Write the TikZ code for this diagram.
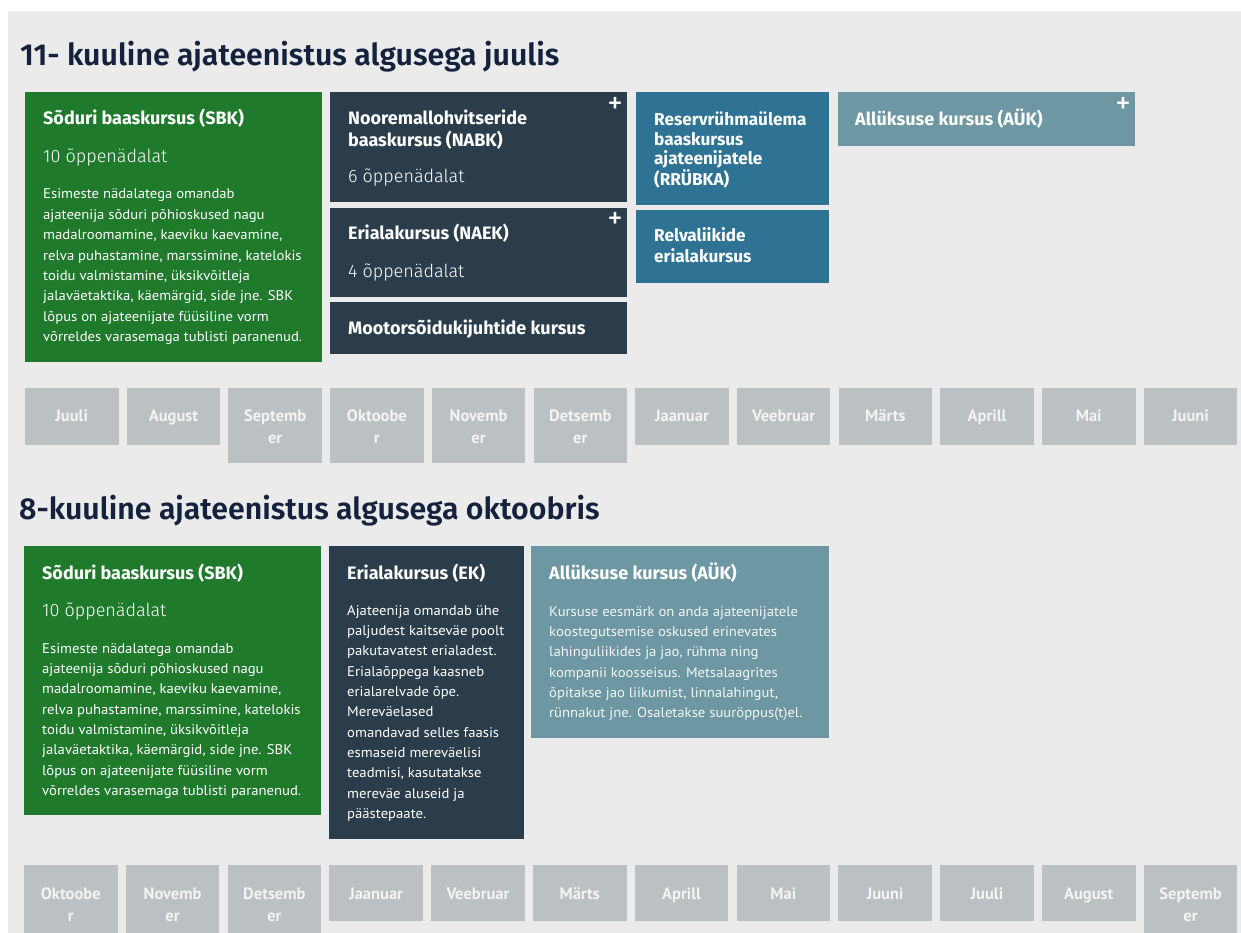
\documentclass[tikz,border=0pt]{standalone}
\usepackage{fontspec}
\setmainfont{Fira Sans}
\newfontfamily\headfont{Fira Sans}
\IfFontExistsTF{Fira Sans SemiBold}{\newfontfamily\titlefont{Fira Sans SemiBold}}{\newfontfamily\titlefont{Fira Sans}[UprightFont=*-Bold]}
\IfFontExistsTF{Fira Sans Light}{\newfontfamily\lightfont{Fira Sans Light}}{\newfontfamily\lightfont{Fira Sans}}
\newfontfamily\bodyfont{PT Sans}[FakeStretch=1.05]
\newfontfamily\monthfont{PT Sans}
\definecolor{bgc}{HTML}{EBEBEB}
\definecolor{titlec}{HTML}{14223E}
\definecolor{grn}{HTML}{1F7A2C}
\definecolor{navy}{HTML}{2B3D4B}
\definecolor{blu}{HTML}{2F7394}
\definecolor{gblu}{HTML}{6D97A3}
\definecolor{mgray}{HTML}{BBC0C2}
\definecolor{mtext}{HTML}{F4F4F4}
\newcommand{\mltext}[2]{\parbox[t]{#1}{\raggedright #2}}
\begin{document}
\begin{tikzpicture}[x=1pt,y=-1pt,
  cbox/.style={rectangle, inner sep=0pt, outer sep=0pt, anchor=north west},
  ttl/.style={anchor=base west, inner sep=0pt, text=titlec, font=\titlefont\fontsize{30.3}{34}\selectfont},
  head/.style={anchor=base west, inner sep=0pt, text=white, font=\headfont\bfseries\fontsize{18}{22}\selectfont},
  shead/.style={anchor=base west, inner sep=0pt, text=white, font=\headfont\bfseries\fontsize{17.2}{19.5}\selectfont},
  weeks/.style={anchor=base west, inner sep=0pt, text=white, font=\lightfont\fontsize{18}{22}\selectfont},
  body/.style={anchor=base west, inner sep=0pt, text=white, font=\bodyfont\fontsize{14}{20.35}\selectfont},
  plus/.style={inner sep=0pt, text=white, font=\headfont\fontsize{31}{31}\selectfont},
  mbox/.style={cbox, fill=mgray, minimum width=93.5pt},
  mlab/.style={anchor=base, inner sep=0pt, text=mtext, font=\monthfont\bfseries\fontsize{16.5}{22}\selectfont}
]
\useasboundingbox (0,0) rectangle (1241,933);
\fill[white] (0,0) rectangle (1241,933);
\fill[bgc] (8,11) rectangle (1241,933);

% ---------- Section 1 ----------
\node[ttl] (t1) at (20,66) {11- kuuline ajateenistus algusega juulis};

\node[cbox, fill=grn, minimum width=297pt, minimum height=270pt] (sbk1) at (25,92) {};
\node[head] (sbk1h) at (43,125) {Sõduri baaskursus (SBK)};
\node[weeks] (sbk1w) at (43,163) {10 õppenädalat};
\node[body] (sbk1b) at (43,199) {\mltext{400pt}{Esimeste nädalatega omandab\\
ajateenija sõduri põhioskused nagu\\
madalroomamine, kaeviku kaevamine,\\
relva puhastamine, marssimine, katelokis\\
toidu valmistamine, üksikvõitleja\\
jalaväetaktika, käemärgid, side jne. SBK\\
lõpus on ajateenijate füüsiline vorm\\
võrreldes varasemaga tublisti paranenud.}};

\node[cbox, fill=navy, minimum width=297pt, minimum height=110pt] (nabk) at (330,92) {};
\node[head] (nabkh) at (348,125) {\mltext{300pt}{Nooremallohvitseride\\baaskursus (NABK)}};
\node[weeks] (nabkw) at (348,183) {6 õppenädalat};
\node[plus] (nabkp) at (615,105) {+};

\node[cbox, fill=navy, minimum width=297pt, minimum height=89pt] (naek) at (330,208) {};
\node[head] (naekh) at (348,240) {Erialakursus (NAEK)};
\node[weeks] (naekw) at (348,277) {4 õppenädalat};
\node[plus] (naekp) at (615,220) {+};

\node[cbox, fill=navy, minimum width=297pt, minimum height=52pt] (moot) at (330,302) {};
\node[head] (mooth) at (348,334) {Mootorsõidukijuhtide kursus};

\node[cbox, fill=blu, minimum width=193pt, minimum height=113pt] (rrub) at (636,92) {};
\node[shead] (rrubh) at (654,126) {\mltext{180pt}{Reservrühmaülema\\baaskursus\\ajateenijatele\\(RRÜBKA)}};

\node[cbox, fill=blu, minimum width=193pt, minimum height=73pt] (relv) at (636,210) {};
\node[shead, font=\headfont\bfseries\fontsize{17.2}{20.5}\selectfont] (relvh) at (654,242) {\mltext{180pt}{Relvaliikide\\erialakursus}};

\node[cbox, fill=gblu, minimum width=297pt, minimum height=54pt] (auk1) at (838,92) {};
\node[head] (auk1h) at (855,126) {Allüksuse kursus (AÜK)};
\node[plus] (auk1p) at (1123,105) {+};

\foreach \i/\lab/\dbl in {0/Juuli/0, 1/August/0, 2/Septemb\\er/1, 3/Oktoobe\\r/1,
  4/Novemb\\er/1, 5/Detsemb\\er/1, 6/Jaanuar/0, 7/Veebruar/0, 8/Märts/0,
  9/Aprill/0, 10/Mai/0, 11/Juuni/0} {
  \node[mbox, minimum height={57pt+18pt*\dbl}] (ma\i) at ({25+101.7*\i},388) {};
  \node[mlab] (mal\i) at ({25+101.7*\i+46.75},421) {\parbox[t]{93pt}{\centering \lab}};
}

% ---------- Section 2 ----------
\node[ttl] (t2) at (19,519) {8-kuuline ajateenistus algusega oktoobris};

\node[cbox, fill=grn, minimum width=297pt, minimum height=269pt] (sbk2) at (24,546) {};
\node[head] (sbk2h) at (42,579) {Sõduri baaskursus (SBK)};
\node[weeks] (sbk2w) at (42,616) {10 õppenädalat};
\node[body] (sbk2b) at (42,653) {\mltext{400pt}{Esimeste nädalatega omandab\\
ajateenija sõduri põhioskused nagu\\
madalroomamine, kaeviku kaevamine,\\
relva puhastamine, marssimine, katelokis\\
toidu valmistamine, üksikvõitleja\\
jalaväetaktika, käemärgid, side jne. SBK\\
lõpus on ajateenijate füüsiline vorm\\
võrreldes varasemaga tublisti paranenud.}};

\node[cbox, fill=navy, minimum width=195pt, minimum height=293pt] (ek) at (329,546) {};
\node[head] (ekh) at (347,579) {Erialakursus (EK)};
\node[body] (ekb) at (347,615) {\mltext{300pt}{Ajateenija omandab ühe\\
paljudest kaitseväe poolt\\
pakutavatest erialadest.\\
Erialaõppega kaasneb\\
erialarelvade õpe.\\
Mereväelased\\
omandavad selles faasis\\
esmaseid mereväelisi\\
teadmisi, kasutatakse\\
mereväe aluseid ja\\
päästepaate.}};

\node[cbox, fill=gblu, minimum width=298pt, minimum height=192pt] (auk2) at (531,546) {};
\node[head] (auk2h) at (549,579) {Allüksuse kursus (AÜK)};
\node[body, text=white!92!gblu] (auk2b) at (549,616) {\mltext{400pt}{Kursuse eesmärk on anda ajateenijatele\\
koostegutsemise oskused erinevates\\
lahinguliikides ja jao, rühma ning\\
kompanii koosseisus. Metsalaagrites\\
õpitakse jao liikumist, linnalahingut,\\
rünnakut jne. Osaletakse suuröppus(t)el.}};

\foreach \i/\lab/\dbl in {0/Oktoobe\\r/1, 1/Novemb\\er/1, 2/Detsemb\\er/1, 3/Jaanuar/0,
  4/Veebruar/0, 5/Märts/0, 6/Aprill/0, 7/Mai/0, 8/Juuni/0, 9/Juuli/0,
  10/August/0, 11/Septemb\\er/1} {
  \node[mbox, minimum height={56pt+12pt*\dbl}] (mb\i) at ({24+101.8*\i},865) {};
  \node[mlab] (mbl\i) at ({24+101.8*\i+46.75},899) {\parbox[t]{93pt}{\centering \lab}};
}
\end{tikzpicture}
\end{document}
